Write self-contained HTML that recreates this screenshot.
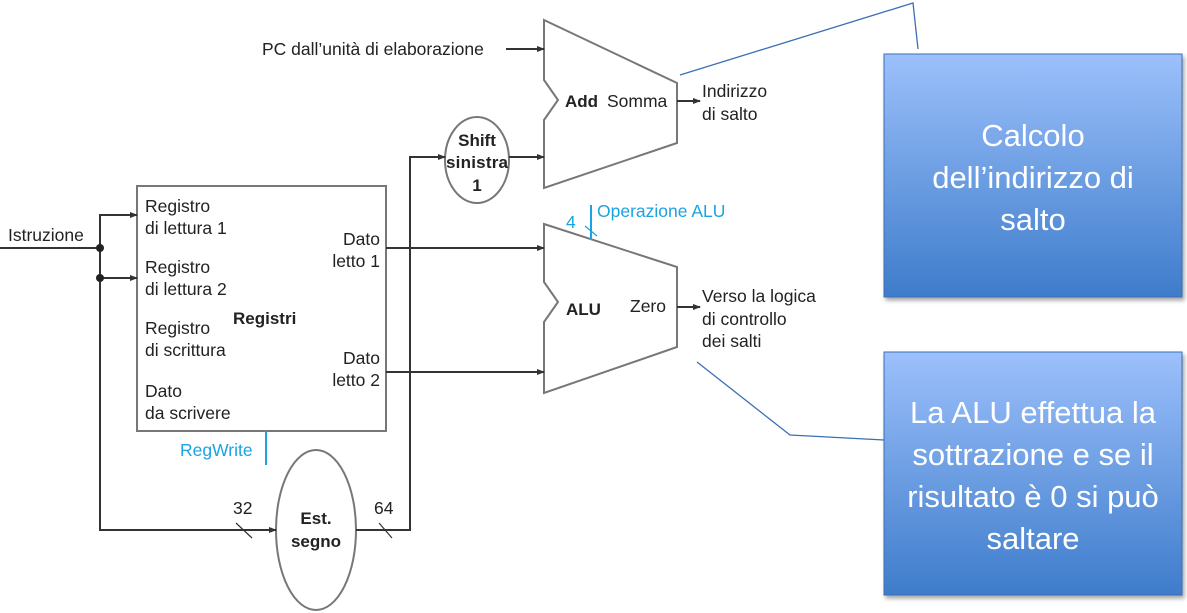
<!DOCTYPE html>
<html><head><meta charset="utf-8"><style>
html,body{margin:0;padding:0;background:#fff;}
svg{display:block;font-family:"Liberation Sans",Arial,sans-serif;}
.t{font-size:17.5px;fill:#222;}
.b{font-size:17px;fill:#222;font-weight:bold;}
.c{font-size:17.5px;fill:#1aa3e0;}
.w{font-size:31px;fill:#fff;}
</style></head><body>
<svg width="1187" height="613" viewBox="0 0 1187 613">
<defs>
<marker id="a" markerWidth="8" markerHeight="8" refX="7" refY="4" orient="auto" markerUnits="userSpaceOnUse"><path d="M0,1 L8,4 L0,7 z" fill="#333"/></marker>
<linearGradient id="g" x1="0" y1="0" x2="0" y2="1"><stop offset="0" stop-color="#9cc0fb"/><stop offset="1" stop-color="#3e7ccb"/></linearGradient>
<filter id="s" x="-5%" y="-5%" width="115%" height="115%"><feDropShadow dx="2" dy="3" stdDeviation="2" flood-opacity="0.35"/></filter>
</defs>
<g stroke="#333" stroke-width="2" fill="none">
<path d="M544,20 L677,83 L677,143 L544,188 L544,120 L558,100 L544,80 Z" stroke="#777"/>
<path d="M544,224 L677,267 L677,347 L544,393 L544,322 L558,302 L544,282 Z" stroke="#777"/>
<rect x="137" y="186" width="249" height="245" stroke="#777"/>
<ellipse cx="477" cy="160" rx="32" ry="43" stroke="#777"/>
<ellipse cx="316" cy="530" rx="40" ry="80" stroke="#777"/>
<line x1="506" y1="49" x2="544" y2="49" marker-end="url(#a)"/>
<line x1="0" y1="248" x2="100" y2="248"/>
<polyline points="137,215 100,215 100,530 276,530" marker-end="url(#a)"/>
<line x1="100" y1="215" x2="137" y2="215" marker-end="url(#a)"/>
<line x1="100" y1="278" x2="137" y2="278" marker-end="url(#a)"/>
<polyline points="356,530 410,530 410,157 445,157" marker-end="url(#a)"/>
<line x1="509" y1="157" x2="544" y2="157" marker-end="url(#a)"/>
<line x1="386" y1="248" x2="544" y2="248" marker-end="url(#a)"/>
<line x1="386" y1="372" x2="544" y2="372" marker-end="url(#a)"/>
<line x1="677" y1="101" x2="700" y2="101" marker-end="url(#a)"/>
<line x1="677" y1="307" x2="700" y2="307" marker-end="url(#a)"/>
<line x1="236" y1="523" x2="252" y2="538" stroke-width="1.2"/>
<line x1="379" y1="523" x2="392" y2="538" stroke-width="1.2"/>
</g>
<circle cx="100" cy="248" r="4" fill="#222"/>
<circle cx="100" cy="278" r="4" fill="#222"/>
<g stroke="#1aa3e0" stroke-width="2">
<line x1="266" y1="431" x2="266" y2="465"/>
<line x1="591" y1="205" x2="591" y2="240"/>
<line x1="585" y1="226" x2="597" y2="236" stroke-width="1.2"/>
</g>
<text class="t" x="262" y="55">PC dall’unità di elaborazione</text>
<text class="b" x="565" y="107">Add</text><text class="t" x="607" y="107">Somma</text>
<text class="t" x="702" y="97">Indirizzo</text><text class="t" x="702" y="120">di salto</text>
<text class="b" x="477" y="146" text-anchor="middle">Shift</text>
<text class="b" x="477" y="168" text-anchor="middle" textLength="62">sinistra</text>
<text class="b" x="477" y="191" text-anchor="middle">1</text>
<text class="c" x="566" y="228">4</text><text class="c" x="597" y="217">Operazione ALU</text>
<text class="b" x="566" y="315">ALU</text><text class="t" x="630" y="312">Zero</text>
<text class="t" x="702" y="302">Verso la logica</text><text class="t" x="702" y="325">di controllo</text><text class="t" x="702" y="347">dei salti</text>
<text class="t" x="8" y="241">Istruzione</text>
<text class="t" x="145" y="212">Registro</text><text class="t" x="145" y="234">di lettura 1</text>
<text class="t" x="145" y="273">Registro</text><text class="t" x="145" y="295">di lettura 2</text>
<text class="t" x="145" y="334">Registro</text><text class="t" x="145" y="356">di scrittura</text>
<text class="t" x="145" y="397">Dato</text><text class="t" x="145" y="419">da scrivere</text>
<text class="b" x="233" y="324">Registri</text>
<text class="t" x="380" y="245" text-anchor="end">Dato</text><text class="t" x="380" y="267" text-anchor="end">letto 1</text>
<text class="t" x="380" y="364" text-anchor="end">Dato</text><text class="t" x="380" y="386" text-anchor="end">letto 2</text>
<text class="c" x="180" y="456">RegWrite</text>
<text class="t" x="233" y="514">32</text><text class="t" x="374" y="514">64</text>
<text class="b" x="316" y="524" text-anchor="middle">Est.</text>
<text class="b" x="316" y="547" text-anchor="middle">segno</text>
<polyline points="680,75 913,3 918,49" fill="none" stroke="#3b6fb5" stroke-width="1.3"/>
<polyline points="697,362 790,435 884,440" fill="none" stroke="#3b6fb5" stroke-width="1.3"/>
<rect x="884" y="54" width="298" height="243" fill="url(#g)" stroke="#3b6fb5" filter="url(#s)"/>
<rect x="884" y="352" width="298" height="243" fill="url(#g)" stroke="#3b6fb5" filter="url(#s)"/>
<g text-anchor="middle">
<text class="w" x="1033" y="146">Calcolo</text>
<text class="w" x="1033" y="188">dell’indirizzo di</text>
<text class="w" x="1033" y="230">salto</text>
<text class="w" x="1033" y="423">La ALU effettua la</text>
<text class="w" x="1033" y="465">sottrazione e se il</text>
<text class="w" x="1033" y="507">risultato è 0 si può</text>
<text class="w" x="1033" y="549">saltare</text>
</g>
</svg>
</body></html>
